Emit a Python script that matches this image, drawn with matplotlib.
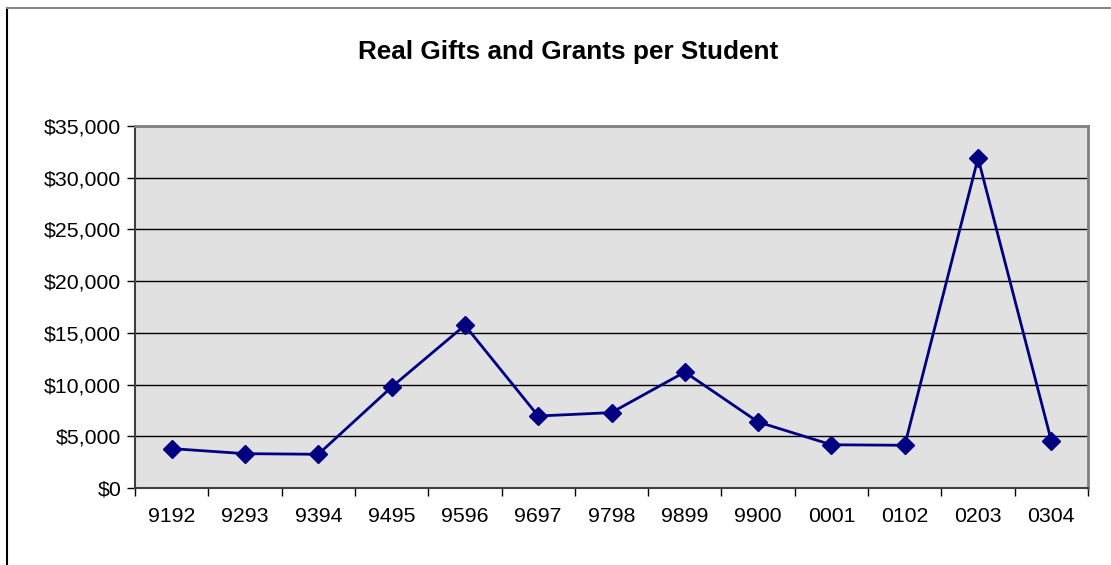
import matplotlib.pyplot as plt
from matplotlib.ticker import FuncFormatter
from matplotlib.lines import Line2D

years = ['9192', '9293', '9394', '9495', '9596', '9697', '9798',
         '9899', '9900', '0001', '0102', '0203', '0304']
gifts = [3810, 3320, 3260, 9760, 15730, 6960, 7290,
         11210, 6380, 4180, 4130, 31900, 4540]

plt.rcParams['font.family'] = ['Liberation Sans', 'DejaVu Sans']

fig = plt.figure(figsize=(11.11, 5.65), dpi=100)
ax = fig.add_axes([135 / 1111, 77 / 565, 953 / 1111, 362 / 565])

x = [i + 0.5 for i in range(len(years))]
ax.plot(x, gifts, color='#000080', linewidth=2, marker='D',
        markersize=9.5, markerfacecolor='#000080', markeredgecolor='#000080')

ax.set_facecolor('#E1E1E1')
ax.set_xlim(0, len(years))
ax.set_ylim(0, 35000)
ax.set_yticks(range(0, 35001, 5000))
ax.yaxis.set_major_formatter(FuncFormatter(lambda v, p: f'${v:,.0f}'))
ax.grid(axis='y', color='black', linewidth=1)
ax.set_axisbelow(True)

# category boundaries as ticks, labels centred under each category
ax.set_xticks(range(len(years) + 1))
ax.set_xticklabels([])
ax.set_xticks(x, minor=True)
ax.set_xticklabels(years, minor=True)
ax.tick_params(axis='x', which='minor', length=0, pad=14, labelsize=15.3)
ax.tick_params(axis='x', which='major', length=6, width=1, color='black')
ax.tick_params(axis='y', length=6, width=1, color='black', labelsize=15.3, pad=4)

for s in ['left', 'bottom']:
    ax.spines[s].set_color('#404040')
    ax.spines[s].set_linewidth(1.5)
for s in ['top', 'right']:
    ax.spines[s].set_color('#808080')
    ax.spines[s].set_linewidth(2)

fig.text(568 / 1111, 1 - 52 / 565, 'Real Gifts and Grants per Student',
         ha='center', va='center', fontsize=18.8, fontweight='bold')

# outer chart frame (cut off at right and bottom)
fig.add_artist(Line2D([7 / 1111, 7 / 1111], [0, 1 - 8 / 565],
                      transform=fig.transFigure, color='black', linewidth=1.5))
fig.add_artist(Line2D([7 / 1111, 1], [1 - 8 / 565, 1 - 8 / 565],
                      transform=fig.transFigure, color='#888888', linewidth=1.5))

fig.savefig('out.png', dpi=100)
